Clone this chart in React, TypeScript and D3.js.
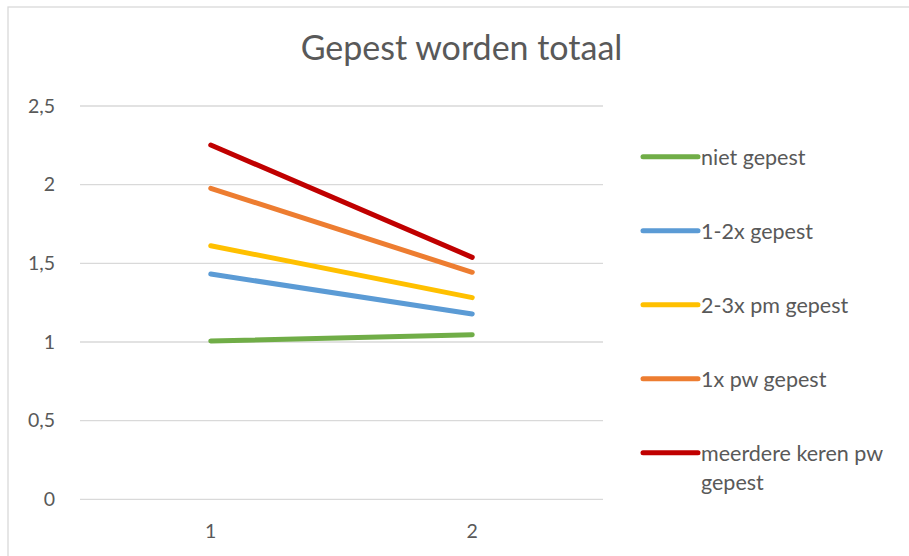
import React from "react";
import * as d3 from "d3";

const categories = ["1", "2"];
const seriesNames = ["niet gepest", "1-2x gepest", "2-3x pm gepest", "1x pw gepest", "meerdere keren pw gepest"];
const nietGepest = [1.006, 1.046];
const eenTweeGepest = [1.432, 1.178];
const tweeDriePm = [1.612, 1.282];
const eenPw = [1.977, 1.443];
const meerderePw = [2.252, 1.538];
const yTicks = [0, 0.5, 1, 1.5, 2, 2.5];
const colors = ["#70AD47", "#5B9BD5", "#FFC000", "#ED7D31", "#C00000"];

const W = 909, H = 556;
const FONT = "Lato, 'Open Sans', sans-serif";
const TXT = "#595959";

export default function App() {
  const series = [nietGepest, eenTweeGepest, tweeDriePm, eenPw, meerderePw];
  const x = d3.scaleBand<string>().domain(categories).range([80, 603]);
  const y = d3.scaleLinear().domain([0, 2.5]).range([499.3, 106]);
  const line = d3
    .line<number>()
    .x((_, i) => (x(categories[i]) as number) + x.bandwidth() / 2)
    .y((d) => y(d));
  const fmt = (v: number) => String(v).replace(".", ",");
  const legendY0 = 156.7;
  const legendStep = 74;
  return (
    <svg width={W} height={H} style={{ position: "absolute", left: 0, top: 0, background: "#fff" }}>
      <rect x={8} y={7} width={W + 10} height={H + 10} fill="#fff" stroke="#D9D9D9" strokeWidth={1.3} />
      <text x={461.5} y={60} textAnchor="middle" fontFamily={FONT} fontSize={34} fill={TXT}>
        Gepest worden totaal
      </text>
      {yTicks.map((t) => (
        <g key={t}>
          <line x1={80} x2={603} y1={y(t)} y2={y(t)} stroke="#D9D9D9" strokeWidth={1.3} />
          <text x={55} y={y(t)} dy="0.35em" textAnchor="end" fontFamily={FONT} fontSize={19.5} fill={TXT}>
            {fmt(t)}
          </text>
        </g>
      ))}
      {categories.map((c) => (
        <text key={c} x={(x(c) as number) + x.bandwidth() / 2} y={538} textAnchor="middle" fontFamily={FONT} fontSize={19.5} fill={TXT}>
          {c}
        </text>
      ))}
      {series.map((s, i) => (
        <path key={i} d={line(s) || ""} fill="none" stroke={colors[i]} strokeWidth={5} strokeLinecap="round" />
      ))}
      {seriesNames.map((n, i) => {
        const ly = legendY0 + i * legendStep;
        const lines = i === 4 ? ["meerdere keren pw", "gepest"] : [n];
        return (
          <g key={n}>
            <line x1={643} x2={698} y1={ly} y2={ly} stroke={colors[i]} strokeWidth={5} strokeLinecap="round" />
            {lines.map((t, j) => (
              <text key={j} x={701} y={ly + 8 + j * 29.5} fontFamily={FONT} fontSize={21.5} fill={TXT}>
                {t}
              </text>
            ))}
          </g>
        );
      })}
    </svg>
  );
}
